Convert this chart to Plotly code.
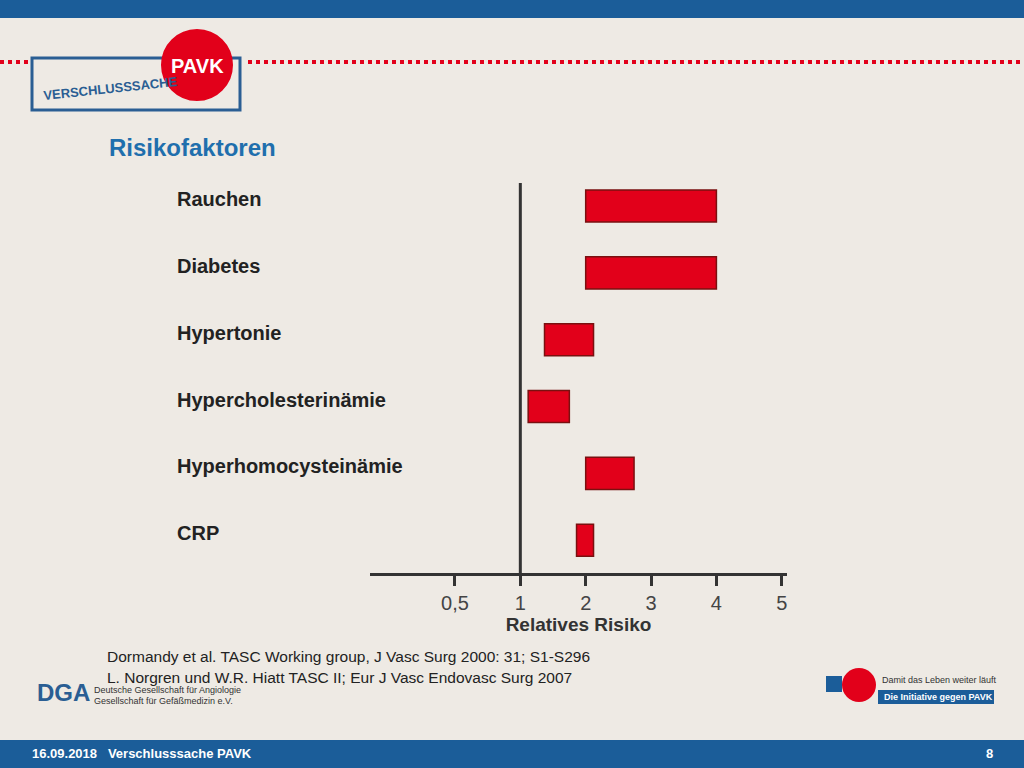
import plotly.graph_objects as go

factors = ["Rauchen", "Diabetes", "Hypertonie", "Hypercholesterinämie", "Hyperhomocysteinämie", "CRP"]
# axis positions: 0 -> "0,5", k -> k
risk_low = [2.0, 2.0, 1.37, 1.12, 2.0, 1.86]
risk_high = [4.0, 4.0, 2.12, 1.75, 2.74, 2.12]
tick_vals = [0, 1, 2, 3, 4, 5]
tick_text = ["0,5", "1", "2", "3", "4", "5"]

rows = list(range(len(factors)))
W, H = 1024, 768
px = lambda v: v / W
py = lambda v: 1 - v / H

fig = go.Figure()
fig.add_trace(go.Bar(
    y=rows, x=[h - l for l, h in zip(risk_low, risk_high)], base=risk_low,
    orientation="h", width=0.48,
    marker=dict(color="#e2001a", line=dict(color="#7a1010", width=1.5)),
    hoverinfo="skip", showlegend=False))

fig.update_layout(
    width=W, height=H, margin=dict(l=0, r=0, t=0, b=0),
    paper_bgcolor="#eeeae4", plot_bgcolor="rgba(0,0,0,0)",
    font=dict(family="Liberation Sans, Arial", color="#222"),
    xaxis=dict(domain=[px(370), px(787)], range=[-1.3, 5.08],
               tickvals=tick_vals, ticktext=tick_text, showgrid=False, zeroline=False,
               showline=True, linecolor="#333", linewidth=3,
               ticks="outside", ticklen=10, tickwidth=3, tickcolor="#333",
               tickfont=dict(size=20, color="#444"),
               title=dict(text="<b>Relatives Risiko</b>", font=dict(size=19, color="#333"), standoff=2)),
    yaxis=dict(domain=[py(573), py(183)], range=[5.49, -0.344], visible=False),
)

shapes = [
    dict(type="line", xref="x", yref="paper", x0=1, x1=1, y0=py(573), y1=py(183),
         line=dict(color="#333", width=3)),
    dict(type="rect", xref="paper", yref="paper", x0=0, x1=1, y0=py(18), y1=1,
         fillcolor="#1b5d99", line_width=0),
    dict(type="rect", xref="paper", yref="paper", x0=0, x1=1, y0=0, y1=py(740),
         fillcolor="#1b5d99", line_width=0),
    dict(type="line", xref="paper", yref="paper", x0=px(0), x1=px(30), y0=py(62), y1=py(62),
         line=dict(color="#e2001a", width=4, dash="dot")),
    dict(type="line", xref="paper", yref="paper", x0=px(248), x1=px(1020), y0=py(62), y1=py(62),
         line=dict(color="#e2001a", width=4, dash="dot")),
    dict(type="rect", xref="paper", yref="paper", x0=px(32), x1=px(240), y0=py(110), y1=py(58),
         fillcolor="#eeeae4", line=dict(color="#2a5e93", width=3)),
    dict(type="circle", xref="paper", yref="paper", x0=px(162), x1=px(232), y0=py(100), y1=py(30),
         fillcolor="#e2001a", line=dict(color="#e2001a")),
    dict(type="rect", xref="paper", yref="paper", x0=px(826), x1=px(842), y0=py(692), y1=py(676),
         fillcolor="#1b5d99", line_width=0),
    dict(type="circle", xref="paper", yref="paper", x0=px(842), x1=px(876), y0=py(702), y1=py(668),
         fillcolor="#e2001a", line_width=0),
    dict(type="rect", xref="paper", yref="paper", x0=px(878), x1=px(994), y0=py(704), y1=py(690),
         fillcolor="#1b5d99", line_width=0),
]
fig.update_layout(shapes=shapes)

ann = []
for r, f in zip(rows, factors):
    ann.append(dict(xref="paper", yref="y", x=px(175), y=r, yshift=7, text="<b>%s</b>" % f,
                    showarrow=False, xanchor="left", font=dict(size=20, color="#222")))
def t(x, y, s, size, color="#222", anchor="left", bold=False, rot=0):
    ann.append(dict(xref="paper", yref="paper", x=px(x), y=py(y), showarrow=False,
                    xanchor=anchor, yanchor="middle", textangle=rot,
                    text=("<b>%s</b>" % s) if bold else s, font=dict(size=size, color=color)))
t(107, 147, "Risikofaktoren", 24, "#1f6fad", bold=True)
t(105, 656, "Dormandy et al. TASC Working group, J Vasc Surg 2000: 31; S1-S296", 15.5)
t(105, 677, "L. Norgren und W.R. Hiatt TASC II; Eur J Vasc Endovasc Surg 2007", 15.5)
t(40, 88, "VERSCHLUSSSACHE", 13, "#2a5e93", bold=True, rot=-6)
t(197, 66, "PAVK", 20, "white", anchor="center", bold=True)
t(35, 692, "DGA", 24, "#2a5e93", bold=True)
t(92, 690, "Deutsche Gesellschaft für Angiologie", 9, "#333")
t(92, 701, "Gesellschaft für Gefäßmedizin e.V.", 9, "#333")
t(880, 680, "Damit das Leben weiter läuft", 9, "#333")
t(882, 697, "Die Initiative gegen PAVK", 9, "white", bold=True)
t(30, 753, "16.09.2018   Verschlusssache PAVK", 13, "white", bold=True)
t(995, 753, "8", 13, "white", anchor="right", bold=True)
fig.update_layout(annotations=ann)

fig.write_html("out.html", config={"displayModeBar": False})
with open("out.html", encoding="utf-8") as fh:
    html = fh.read()
html = html.replace("<head>", "<head><style>html,body{margin:0;padding:0;overflow:hidden}</style>", 1)
with open("out.html", "w", encoding="utf-8") as fh:
    fh.write(html)
